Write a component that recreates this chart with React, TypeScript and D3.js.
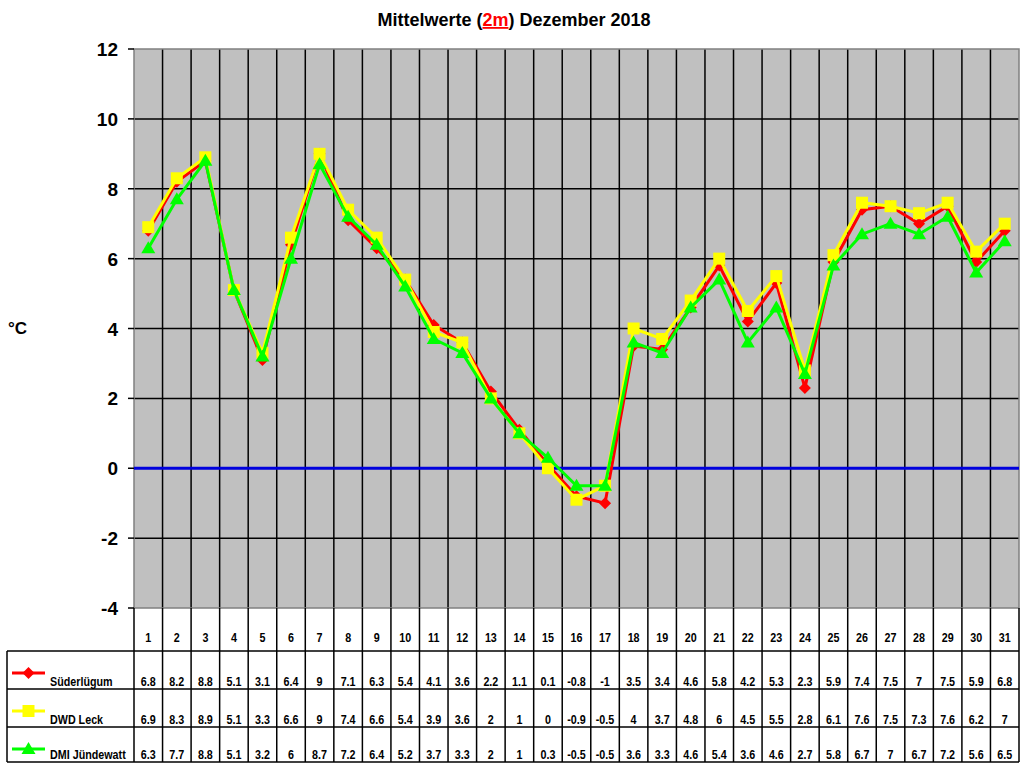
import React from 'react';
import * as d3 from 'd3';

// Tagesmittel Dezember 2018 (2 m)
const days = d3.range(1, 32).map(String);
const suederluegum = [6.8, 8.2, 8.8, 5.1, 3.1, 6.4, 9, 7.1, 6.3, 5.4, 4.1, 3.6, 2.2, 1.1, 0.1, -0.8, -1, 3.5, 3.4, 4.6, 5.8, 4.2, 5.3, 2.3, 5.9, 7.4, 7.5, 7, 7.5, 5.9, 6.8];
const dwdLeck = [6.9, 8.3, 8.9, 5.1, 3.3, 6.6, 9, 7.4, 6.6, 5.4, 3.9, 3.6, 2, 1, 0, -0.9, -0.5, 4, 3.7, 4.8, 6, 4.5, 5.5, 2.8, 6.1, 7.6, 7.5, 7.3, 7.6, 6.2, 7];
const dmiJuendewatt = [6.3, 7.7, 8.8, 5.1, 3.2, 6, 8.7, 7.2, 6.4, 5.2, 3.7, 3.3, 2, 1, 0.3, -0.5, -0.5, 3.6, 3.3, 4.6, 5.4, 3.6, 4.6, 2.7, 5.8, 6.7, 7, 6.7, 7.2, 5.6, 6.5];
const yTicks = [-4, -2, 0, 2, 4, 6, 8, 10, 12];

const series = [
  { name: 'Süderlügum', values: suederluegum, color: '#ff0000', marker: 'diamond' },
  { name: 'DWD Leck', values: dwdLeck, color: '#ffff00', marker: 'square' },
  { name: 'DMI Jündewatt', values: dmiJuendewatt, color: '#00ff00', marker: 'triangle' },
];

const FONT = "Arial, 'Liberation Sans', sans-serif";

const W = 1024;
const H = 768;
const plot = { left: 134, right: 1019, top: 49, bottom: 608 };
const tableRows = [651, 689, 727, 762]; // Unterkanten: Kopfzeile + 3 Datenzeilen
const tableLeft = 7;
const squeeze = 0.86; // Tabellenschrift ist etwas schmaler

const markerPath = (type: string, x: number, y: number) => {
  if (type === 'diamond') return `M${x},${y - 6}L${x + 6},${y}L${x},${y + 6}L${x - 6},${y}Z`;
  if (type === 'square') return `M${x - 6},${y - 6}h12v12h-12Z`;
  return `M${x},${y - 7}L${x + 7},${y + 5}L${x - 7},${y + 5}Z`;
};

// schmale Tabellentexte
const Cell: React.FC<{ x: number; y: number; anchor?: string; children: React.ReactNode }> = ({ x, y, anchor = 'middle', children }) => (
  <text transform={`translate(${x},${y}) scale(${squeeze},1)`} textAnchor={anchor} fontSize={12.5} fontWeight="bold">
    {children}
  </text>
);

const App: React.FC = () => {
  const x = d3.scaleBand<string>().domain(days).range([plot.left, plot.right]).padding(0);
  const y = d3.scaleLinear().domain([-4, 12]).range([plot.bottom, plot.top]);
  const cx = (d: string) => (x(d) ?? 0) + x.bandwidth() / 2;
  const line = d3.line<number>().x((_, i) => cx(days[i])).y(v => y(v));
  const boundaries = days.map(d => x(d) ?? 0).concat([plot.right]);

  return (
    <svg width={W} height={H} style={{ position: 'absolute', left: 0, top: 0, background: '#fff' }} fontFamily={FONT}>
      {/* Titel */}
      <text x={514} y={26} textAnchor="middle" fontSize={18} fontWeight="bold">
        Mittelwerte (<tspan fill="#ff0000" textDecoration="underline">2m</tspan>) Dezember 2018
      </text>

      {/* Plotfläche */}
      <rect x={plot.left} y={plot.top} width={plot.right - plot.left} height={plot.bottom - plot.top} fill="#c0c0c0" />
      {yTicks.slice(1, -1).map(t => (
        <line key={'h' + t} x1={plot.left} x2={plot.right} y1={y(t)} y2={y(t)} stroke="#000" strokeWidth={1.5} />
      ))}
      {boundaries.slice(1, -1).map((bx, i) => (
        <line key={'v' + i} x1={bx} x2={bx} y1={plot.top} y2={plot.bottom} stroke="#000" strokeWidth={1.5} />
      ))}
      <rect x={plot.left} y={plot.top} width={plot.right - plot.left} height={plot.bottom - plot.top} fill="none" stroke="#808080" strokeWidth={1.5} />

      {/* Y-Achse */}
      {yTicks.map(t => (
        <g key={'t' + t}>
          <line x1={plot.left - 6} x2={plot.left} y1={y(t)} y2={y(t)} stroke="#000" strokeWidth={1.5} />
          <text x={118} y={y(t) + 7} textAnchor="end" fontSize={19} fontWeight="bold">{t}</text>
        </g>
      ))}
      <text x={8} y={334} fontSize={17} fontWeight="bold">°C</text>

      {/* Nulllinie */}
      <line x1={plot.left} x2={plot.right} y1={y(0)} y2={y(0)} stroke="#0000dd" strokeWidth={3} />

      {/* Reihen */}
      {series.map(s => (
        <g key={s.name}>
          <path d={line(s.values) ?? ''} fill="none" stroke={s.color} strokeWidth={3} />
          {s.values.map((v, i) => (
            <path key={i} d={markerPath(s.marker, cx(days[i]), y(v))} fill={s.color} />
          ))}
        </g>
      ))}

      {/* Datentabelle */}
      {boundaries.map((bx, i) => (
        <line key={'tv' + i} x1={bx} x2={bx} y1={plot.bottom} y2={tableRows[3]} stroke="#000" strokeWidth={1.5} />
      ))}
      <line x1={tableLeft} x2={tableLeft} y1={tableRows[0]} y2={tableRows[3]} stroke="#000" strokeWidth={1.5} />
      {tableRows.map(ry => (
        <line key={'th' + ry} x1={tableLeft} x2={plot.right} y1={ry} y2={ry} stroke="#000" strokeWidth={1.5} />
      ))}
      {days.map(d => (
        <Cell key={'d' + d} x={cx(d)} y={642}>{d}</Cell>
      ))}
      {series.map((s, r) => {
        const base = tableRows[r + 1] - 3;
        const my = tableRows[r] + 22;
        return (
          <g key={'row' + s.name}>
            <line x1={12} x2={45} y1={my} y2={my} stroke={s.color} strokeWidth={3} />
            <path d={markerPath(s.marker, 28.5, my)} fill={s.color} />
            <Cell x={50} y={base} anchor="start">{s.name}</Cell>
            {s.values.map((v, i) => (
              <Cell key={i} x={cx(days[i])} y={base}>{v}</Cell>
            ))}
          </g>
        );
      })}
    </svg>
  );
};

export default App;
